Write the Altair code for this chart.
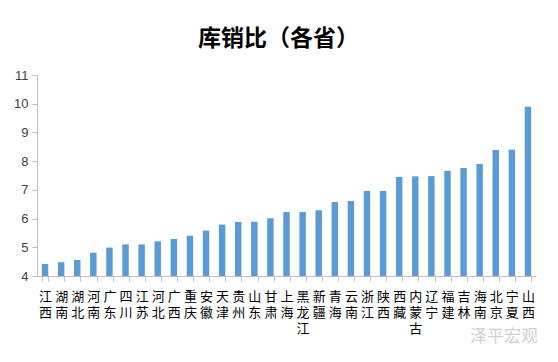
import altair as alt
import pandas as pd

provinces = ["江西", "湖南", "湖北", "河南", "广东", "四川", "江苏", "河北", "广西", "重庆",
             "安徽", "天津", "贵州", "山东", "甘肃", "上海", "黑龙江", "新疆", "青海", "云南",
             "浙江", "陕西", "西藏", "内蒙古", "辽宁", "福建", "吉林", "海南", "北京", "宁夏", "山西"]
ratios = [4.42, 4.48, 4.56, 4.81, 4.99, 5.10, 5.10, 5.21, 5.29, 5.40,
          5.58, 5.79, 5.88, 5.89, 6.01, 6.23, 6.23, 6.29, 6.58, 6.61,
          6.96, 6.96, 7.45, 7.47, 7.48, 7.66, 7.76, 7.90, 8.39, 8.40, 9.89]

df = pd.DataFrame({"province": provinces, "ratio": ratios})

bars = alt.Chart(df).mark_bar(color="#5B9BD5").encode(
    x=alt.X("province:N", sort=provinces, title=None,
            scale=alt.Scale(paddingInner=0.6, paddingOuter=0.3),
            axis=alt.Axis(labelExpr="isString(datum.value) ? split(datum.value, '') : ''",
                          labelAngle=0,
                          labelBaseline="top", labelAlign="center",
                          labelFont="Noto Sans CJK SC", labelFontSize=13,
                          labelLineHeight=16, labelColor="#000000",
                          labelPadding=9, labelOverlap=False,
                          tickBand="extent", tickSize=5, tickColor="#BFBFBF",
                          domainColor="#BFBFBF", grid=False)),
    y=alt.Y("ratio:Q", title=None,
            scale=alt.Scale(domain=[4, 11], nice=False, zero=False),
            axis=alt.Axis(values=[4, 5, 6, 7, 8, 9, 10, 11], grid=False,
                          labelFont="Liberation Sans", labelFontSize=13,
                          labelColor="#404040", labelPadding=4,
                          tickSize=5, tickColor="#BFBFBF", domainColor="#BFBFBF")),
    y2=alt.datum(4),
)

watermark = alt.Chart(pd.DataFrame({"t": ["泽平宏观"]})).mark_text(
    font="Noto Sans CJK SC", fontSize=17, color="#D0D0D0", align="left", baseline="middle"
).encode(x=alt.value(433), y=alt.value(262), text="t:N")

chart = alt.layer(bars, watermark).properties(
    width=499, height=201,
    padding={"left": 29, "top": 67, "right": 14, "bottom": 78},
    autosize=alt.AutoSizeParams(type="none"),
    title=alt.TitleParams("库销比（各省）", font="Noto Sans CJK SC", fontSize=23,
                          fontWeight="bold", color="#000000", offset=18, dx=-8),
).configure_view(stroke=None)

chart.save("out.html", embed_options={"renderer": "svg", "actions": False})
